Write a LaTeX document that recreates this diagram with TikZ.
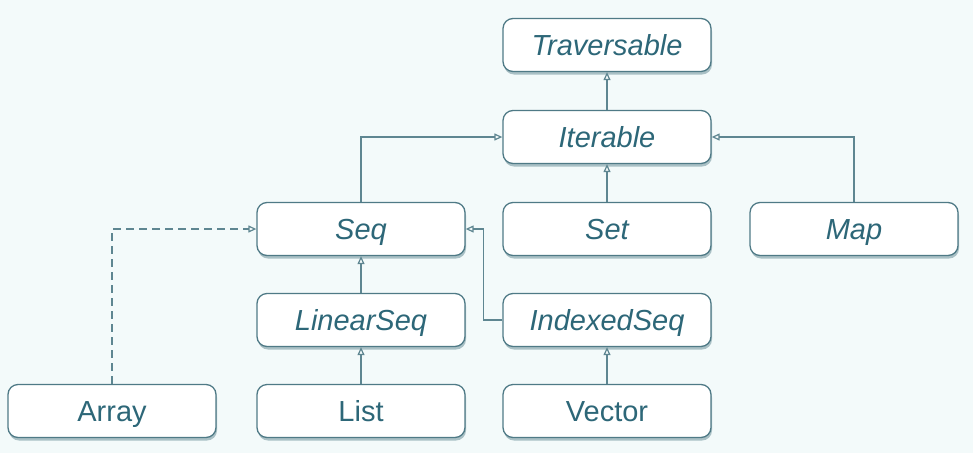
\documentclass[tikz,border=0pt]{standalone}
\usepackage{fontspec}
\setmainfont{Liberation Sans}
\usetikzlibrary{arrows.meta,shadows}
\definecolor{bgc}{HTML}{F3FAFA}
\definecolor{edgec}{HTML}{4F7A86}
\definecolor{txtc}{HTML}{2D6778}
\definecolor{linec}{HTML}{5E8691}
\begin{document}
\begin{tikzpicture}[x=1pt,y=-1pt,
  cls/.style={draw=edgec, line width=1.3pt, fill=white, rounded corners=10pt,
    minimum width=208pt, minimum height=53pt, inner sep=0pt, text=txtc,
    text height=24pt, text depth=3pt,
    font=\fontsize{29}{32}\selectfont,
    drop shadow={shadow xshift=1pt, shadow yshift=-3pt, opacity=0.45, fill=edgec}},
  abs/.style={cls, font=\fontsize{29}{32}\selectfont\itshape},
  inh/.style={draw=linec, line width=1.2pt, -{Triangle[open,length=8pt,width=7pt]}},
  real/.style={inh, dashed, dash pattern=on 8pt off 5pt}]
\fill[bgc] (0,0) rectangle (973,453);
\useasboundingbox (0,0) rectangle (973,453);
\node[abs] (trav) at (607,45) {Traversable};
\node[abs] (iter) at (607,137) {Iterable};
\node[abs] (seq) at (361,229) {Seq};
\node[abs] (set) at (607,229) {Set};
\node[abs] (map) at (854,229) {Map};
\node[abs] (lin) at (361,320) {LinearSeq};
\node[abs] (idx) at (607,320) {IndexedSeq};
\node[cls] (arr) at (112,411) {Array};
\node[cls] (list) at (361,411) {List};
\node[cls] (vec) at (607,411) {Vector};
\draw[inh] (iter) -- (trav);
\draw[inh] (seq.north) |- (iter.west);
\draw[inh] (map.north) |- (iter.east);
\draw[inh] (set) -- (iter);
\draw[inh] (lin) -- (seq);
\draw[inh] (idx.west) -- ++(-19,0) |- (seq.east);
\draw[inh] (list) -- (lin);
\draw[inh] (vec) -- (idx);
\draw[real] (arr.north) |- (seq.west);
\end{tikzpicture}
\end{document}
